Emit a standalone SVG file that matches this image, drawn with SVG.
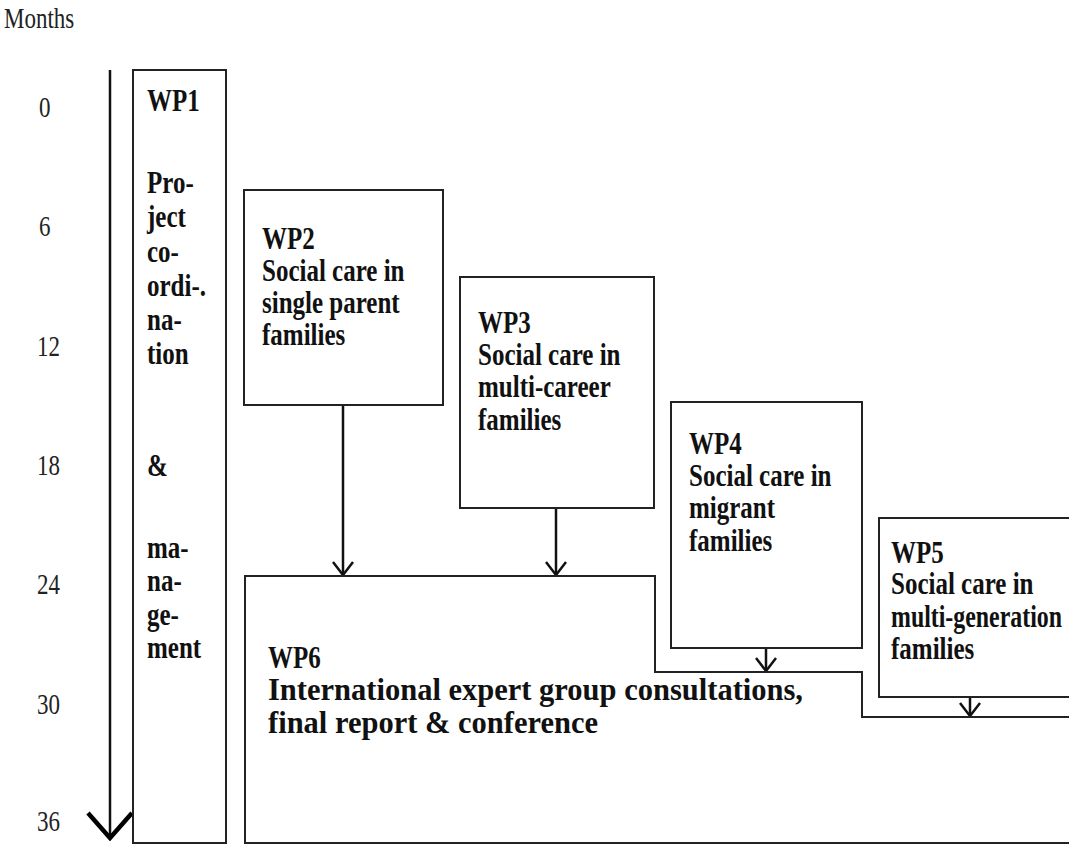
<svg xmlns="http://www.w3.org/2000/svg" width="1069" height="845" viewBox="0 0 1069 845">
<defs>
<style>
.lbl{font-family:"Liberation Serif","Times New Roman",serif;font-size:23px;fill:#222}
.t{font-family:"Liberation Serif","Times New Roman",serif;font-size:25px;font-weight:bold;fill:#111}
.box{fill:#fff;stroke:#222;stroke-width:2}
.con{stroke:#111;stroke-width:2.5;fill:none}
</style>
<marker id="ah" viewBox="0 0 16 22" refX="14" refY="11" markerWidth="16" markerHeight="22" markerUnits="userSpaceOnUse" orient="auto">
<path d="M1,1 L14,11 L1,21" fill="none" stroke="#111" stroke-width="2.5"/>
</marker>
<marker id="ahBig" viewBox="0 0 30 48" refX="27" refY="24" markerWidth="30" markerHeight="48" markerUnits="userSpaceOnUse" orient="auto">
<path d="M2,2 L27,24 L2,46" fill="none" stroke="#000" stroke-width="4.5"/>
</marker>
</defs>
<rect width="1069" height="845" fill="#fff"/>

<g id="axis">
<text class="lbl" transform="translate(4 28) scale(1 1.25)">Months</text>
<text class="lbl" transform="translate(39 117) scale(1 1.25)">0</text>
<text class="lbl" transform="translate(39 236) scale(1 1.25)">6</text>
<text class="lbl" transform="translate(37 356) scale(1 1.25)">12</text>
<text class="lbl" transform="translate(37 475) scale(1 1.25)">18</text>
<text class="lbl" transform="translate(37 594) scale(1 1.25)">24</text>
<text class="lbl" transform="translate(37 714) scale(1 1.25)">30</text>
<text class="lbl" transform="translate(37 831) scale(1 1.25)">36</text>
</g>

<g id="connectors">
<path class="con" d="M110,70 V838" stroke-width="4.5" stroke="#000" marker-end="url(#ahBig)"/>
<path class="con" d="M343,405 V575" marker-end="url(#ah)"/>
<path class="con" d="M556,508 V575" marker-end="url(#ah)"/>
<path class="con" d="M766,648 V671" marker-end="url(#ah)"/>
<path class="con" d="M970,697 V716" marker-end="url(#ah)"/>
</g>

<g id="wp1">
<rect class="box" x="133" y="70" width="93" height="773"/>
<text class="t" transform="translate(147 111) scale(1 1.25)">WP1</text>
<text class="t" transform="translate(147 193) scale(1 1.25)">Pro-</text>
<text class="t" transform="translate(147 227) scale(1 1.25)">ject</text>
<text class="t" transform="translate(147 262) scale(1 1.25)">co-</text>
<text class="t" transform="translate(147 296) scale(1 1.25)">ordi-.</text>
<text class="t" transform="translate(147 330) scale(1 1.25)">na-</text>
<text class="t" transform="translate(147 364) scale(1 1.25)">tion</text>
<text class="t" transform="translate(147 476) scale(1 1.25)">&amp;</text>
<text class="t" transform="translate(147 558) scale(1 1.25)">ma-</text>
<text class="t" transform="translate(147 591) scale(1 1.25)">na-</text>
<text class="t" transform="translate(147 625) scale(1 1.25)">ge-</text>
<text class="t" transform="translate(147 658) scale(1 1.25)">ment</text>
</g>

<g id="wp2">
<rect class="box" x="244" y="190" width="199" height="215"/>
<text class="t" transform="translate(262 249) scale(1 1.25)">WP2</text>
<text class="t" transform="translate(262 281) scale(1 1.25)">Social care in</text>
<text class="t" transform="translate(262 313) scale(1 1.25)">single parent</text>
<text class="t" transform="translate(262 345) scale(1 1.25)">families</text>
</g>

<g id="wp3">
<rect class="box" x="460" y="277" width="194" height="231"/>
<text class="t" transform="translate(478 333) scale(1 1.25)">WP3</text>
<text class="t" transform="translate(478 365) scale(1 1.25)">Social care in</text>
<text class="t" transform="translate(478 397) scale(1 1.25)">multi-career</text>
<text class="t" transform="translate(478 430) scale(1 1.25)">families</text>
</g>

<g id="wp4">
<rect class="box" x="671" y="402" width="191" height="246"/>
<text class="t" transform="translate(689 454) scale(1 1.25)">WP4</text>
<text class="t" transform="translate(689 486) scale(1 1.25)">Social care in</text>
<text class="t" transform="translate(689 518) scale(1 1.25)">migrant</text>
<text class="t" transform="translate(689 551) scale(1 1.25)">families</text>
</g>

<g id="wp5">
<path class="box" d="M1071,518 H879 V697 H1071"/>
<text class="t" transform="translate(891 563) scale(1 1.25)">WP5</text>
<text class="t" transform="translate(891 594) scale(1 1.25)">Social care in</text>
<text class="t" transform="translate(891 627) scale(1 1.25)" textLength="171" lengthAdjust="spacingAndGlyphs">multi-generation</text>
<text class="t" transform="translate(891 659) scale(1 1.25)">families</text>
</g>

<g id="wp6">
<path class="box" d="M1071,717 H862 V672 H655 V576 H245 V843 H1071"/>
<text class="t" transform="translate(268 668) scale(1 1.25)">WP6</text>
<text class="t" transform="translate(268 700) scale(1 1.25)" textLength="535" lengthAdjust="spacingAndGlyphs">International expert group consultations,</text>
<text class="t" transform="translate(268 733) scale(1 1.25)" textLength="330" lengthAdjust="spacingAndGlyphs">final report &amp; conference</text>
</g>
</svg>
